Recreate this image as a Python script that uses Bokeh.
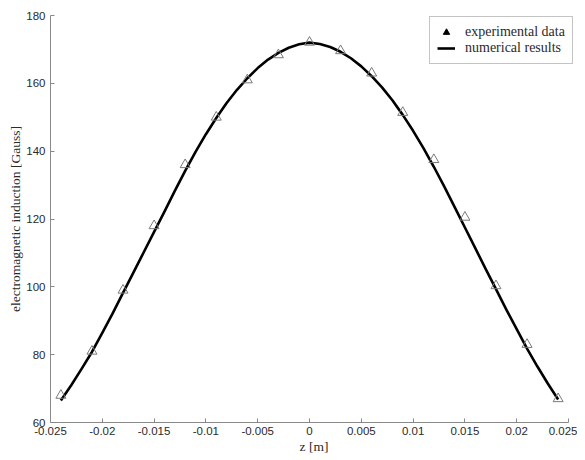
from bokeh.plotting import figure
from bokeh.models import FixedTicker, Legend, LegendItem, Range1d
from bokeh.embed import file_html
from bokeh.resources import INLINE

# experimental data
exp_z = [-0.024, -0.021, -0.018, -0.015, -0.012, -0.009, -0.006, -0.003, 0.0,
         0.003, 0.006, 0.009, 0.012, 0.015, 0.018, 0.021, 0.024]
exp_b = [68.0, 81.0, 99.0, 118.0, 136.0, 150.0, 161.0, 168.4, 172.1,
         169.6, 163.0, 151.4, 137.5, 120.5, 100.3, 83.0, 67.0]

# numerical results
num_z = [-0.024, -0.023, -0.022, -0.021, -0.020, -0.019, -0.018, -0.017, -0.016,
         -0.015, -0.014, -0.013, -0.012, -0.011, -0.010, -0.009, -0.008, -0.007,
         -0.006, -0.005, -0.004, -0.003, -0.002, -0.001, 0.0,
         0.001, 0.002, 0.003, 0.004, 0.005, 0.006, 0.007, 0.008, 0.009, 0.010,
         0.011, 0.012, 0.013, 0.014, 0.015, 0.016, 0.017, 0.018, 0.019, 0.020,
         0.021, 0.022, 0.023, 0.024]
num_b = [66.5, 71.0, 75.8, 80.8, 86.4, 92.2, 98.2, 104.2, 110.2,
         116.2, 122.2, 128.3, 134.2, 139.8, 145.0, 149.8, 154.2, 158.1,
         161.5, 164.5, 167.0, 169.0, 170.5, 171.5, 172.0,
         171.6, 170.7, 169.3, 167.4, 165.0, 162.1, 158.8, 155.0, 150.7, 146.0,
         140.9, 135.4, 129.6, 123.6, 117.5, 111.4, 105.3, 99.3, 93.3, 87.5,
         81.8, 76.5, 71.5, 66.8]

x_ticks = [-0.025, -0.02, -0.015, -0.01, -0.005, 0.0, 0.005, 0.01, 0.015, 0.02, 0.025]
x_tick_labels = ["-0.025", "-0.02", "-0.015", "-0.01", "-0.005", "0",
                 "0.005", "0.01", "0.015", "0.02", "0.025"]
y_ticks = [60, 80, 100, 120, 140, 160, 180]
y_tick_labels = ["60", "80", "100", "120", "140", "160", "180"]

legend_labels = ["experimental data", "numerical results"]

# layout (pixels)
FRAME_W_AXIS = 518          # pixels spanned by the x axis
EXTRA_RIGHT = 9             # frame extends past the axis end so the legend is not clipped
FRAME_W = FRAME_W_AXIS + EXTRA_RIGHT
FRAME_H = 407
x0, x1 = -0.025, 0.025
x_end = x1 + (x1 - x0) * EXTRA_RIGHT / FRAME_W_AXIS

p = figure(width=577, height=456, output_backend="svg", toolbar_location=None,
           x_range=Range1d(x0, x_end), y_range=Range1d(60, 180),
           min_border_left=50, min_border_right=0, min_border_top=15, min_border_bottom=34)
p.frame_width = FRAME_W
p.frame_height = FRAME_H

p.grid.visible = False
p.outline_line_color = None
p.background_fill_color = "white"
p.border_fill_color = "white"

for ax in (p.xaxis[0], p.yaxis[0]):
    ax.axis_line_color = "#8a8a8a"
    ax.major_tick_line_color = "#8a8a8a"
    ax.major_tick_in = 4
    ax.major_tick_out = 0
    ax.minor_tick_line_color = None
    ax.major_label_text_font = "Liberation Sans"
    ax.major_label_text_font_size = "11.5px"
    ax.major_label_text_color = "#2a2a2a"
    ax.axis_label_text_font = "Liberation Serif"
    ax.axis_label_text_font_size = "13.5px"
    ax.axis_label_text_font_style = "normal"
    ax.axis_label_text_color = "#2a2a2a"

p.xaxis.ticker = FixedTicker(ticks=x_ticks)
p.xaxis.bounds = (x0, x1)
p.xaxis.major_label_overrides = {t: l for t, l in zip(x_ticks, x_tick_labels)}
p.xaxis.major_label_standoff = 4
p.xaxis.axis_label = "z [m]"
p.xaxis.axis_label_standoff = 1

p.yaxis.ticker = FixedTicker(ticks=y_ticks)
p.yaxis.major_label_overrides = {t: l for t, l in zip(y_ticks, y_tick_labels)}
p.yaxis.major_label_standoff = 5
p.yaxis.axis_label = "electromagnetic induction [Gauss]"
p.yaxis.axis_label_standoff = 0

line_r = p.line(num_z, num_b, line_color="black", line_width=2.6, line_join="round")
p.scatter(exp_z, exp_b, marker="triangle", size=10, fill_color=None,
          line_color="#7a7a7a", line_width=1)

# legend proxy (filled triangle shown only in legend)
proxy = p.scatter(x=[float("nan")], y=[float("nan")], marker="triangle", size=9,
                  fill_color="black", line_color="black")

legend = Legend(items=[LegendItem(label=legend_labels[0], renderers=[proxy]),
                       LegendItem(label=legend_labels[1], renderers=[line_r])],
                location=(379, 358))
legend.border_line_color = "#8a8a8a"
legend.border_line_width = 1
legend.background_fill_alpha = 1
legend.label_text_font = "Liberation Serif"
legend.label_text_font_size = "14px"
legend.label_text_color = "#2a2a2a"
legend.padding = 7
legend.spacing = 0
legend.glyph_width = 18
legend.glyph_height = 16
legend.label_height = 16
legend.label_standoff = 10
legend.margin = 0
p.add_layout(legend)

open("out.html", "w").write(file_html(p, INLINE))
